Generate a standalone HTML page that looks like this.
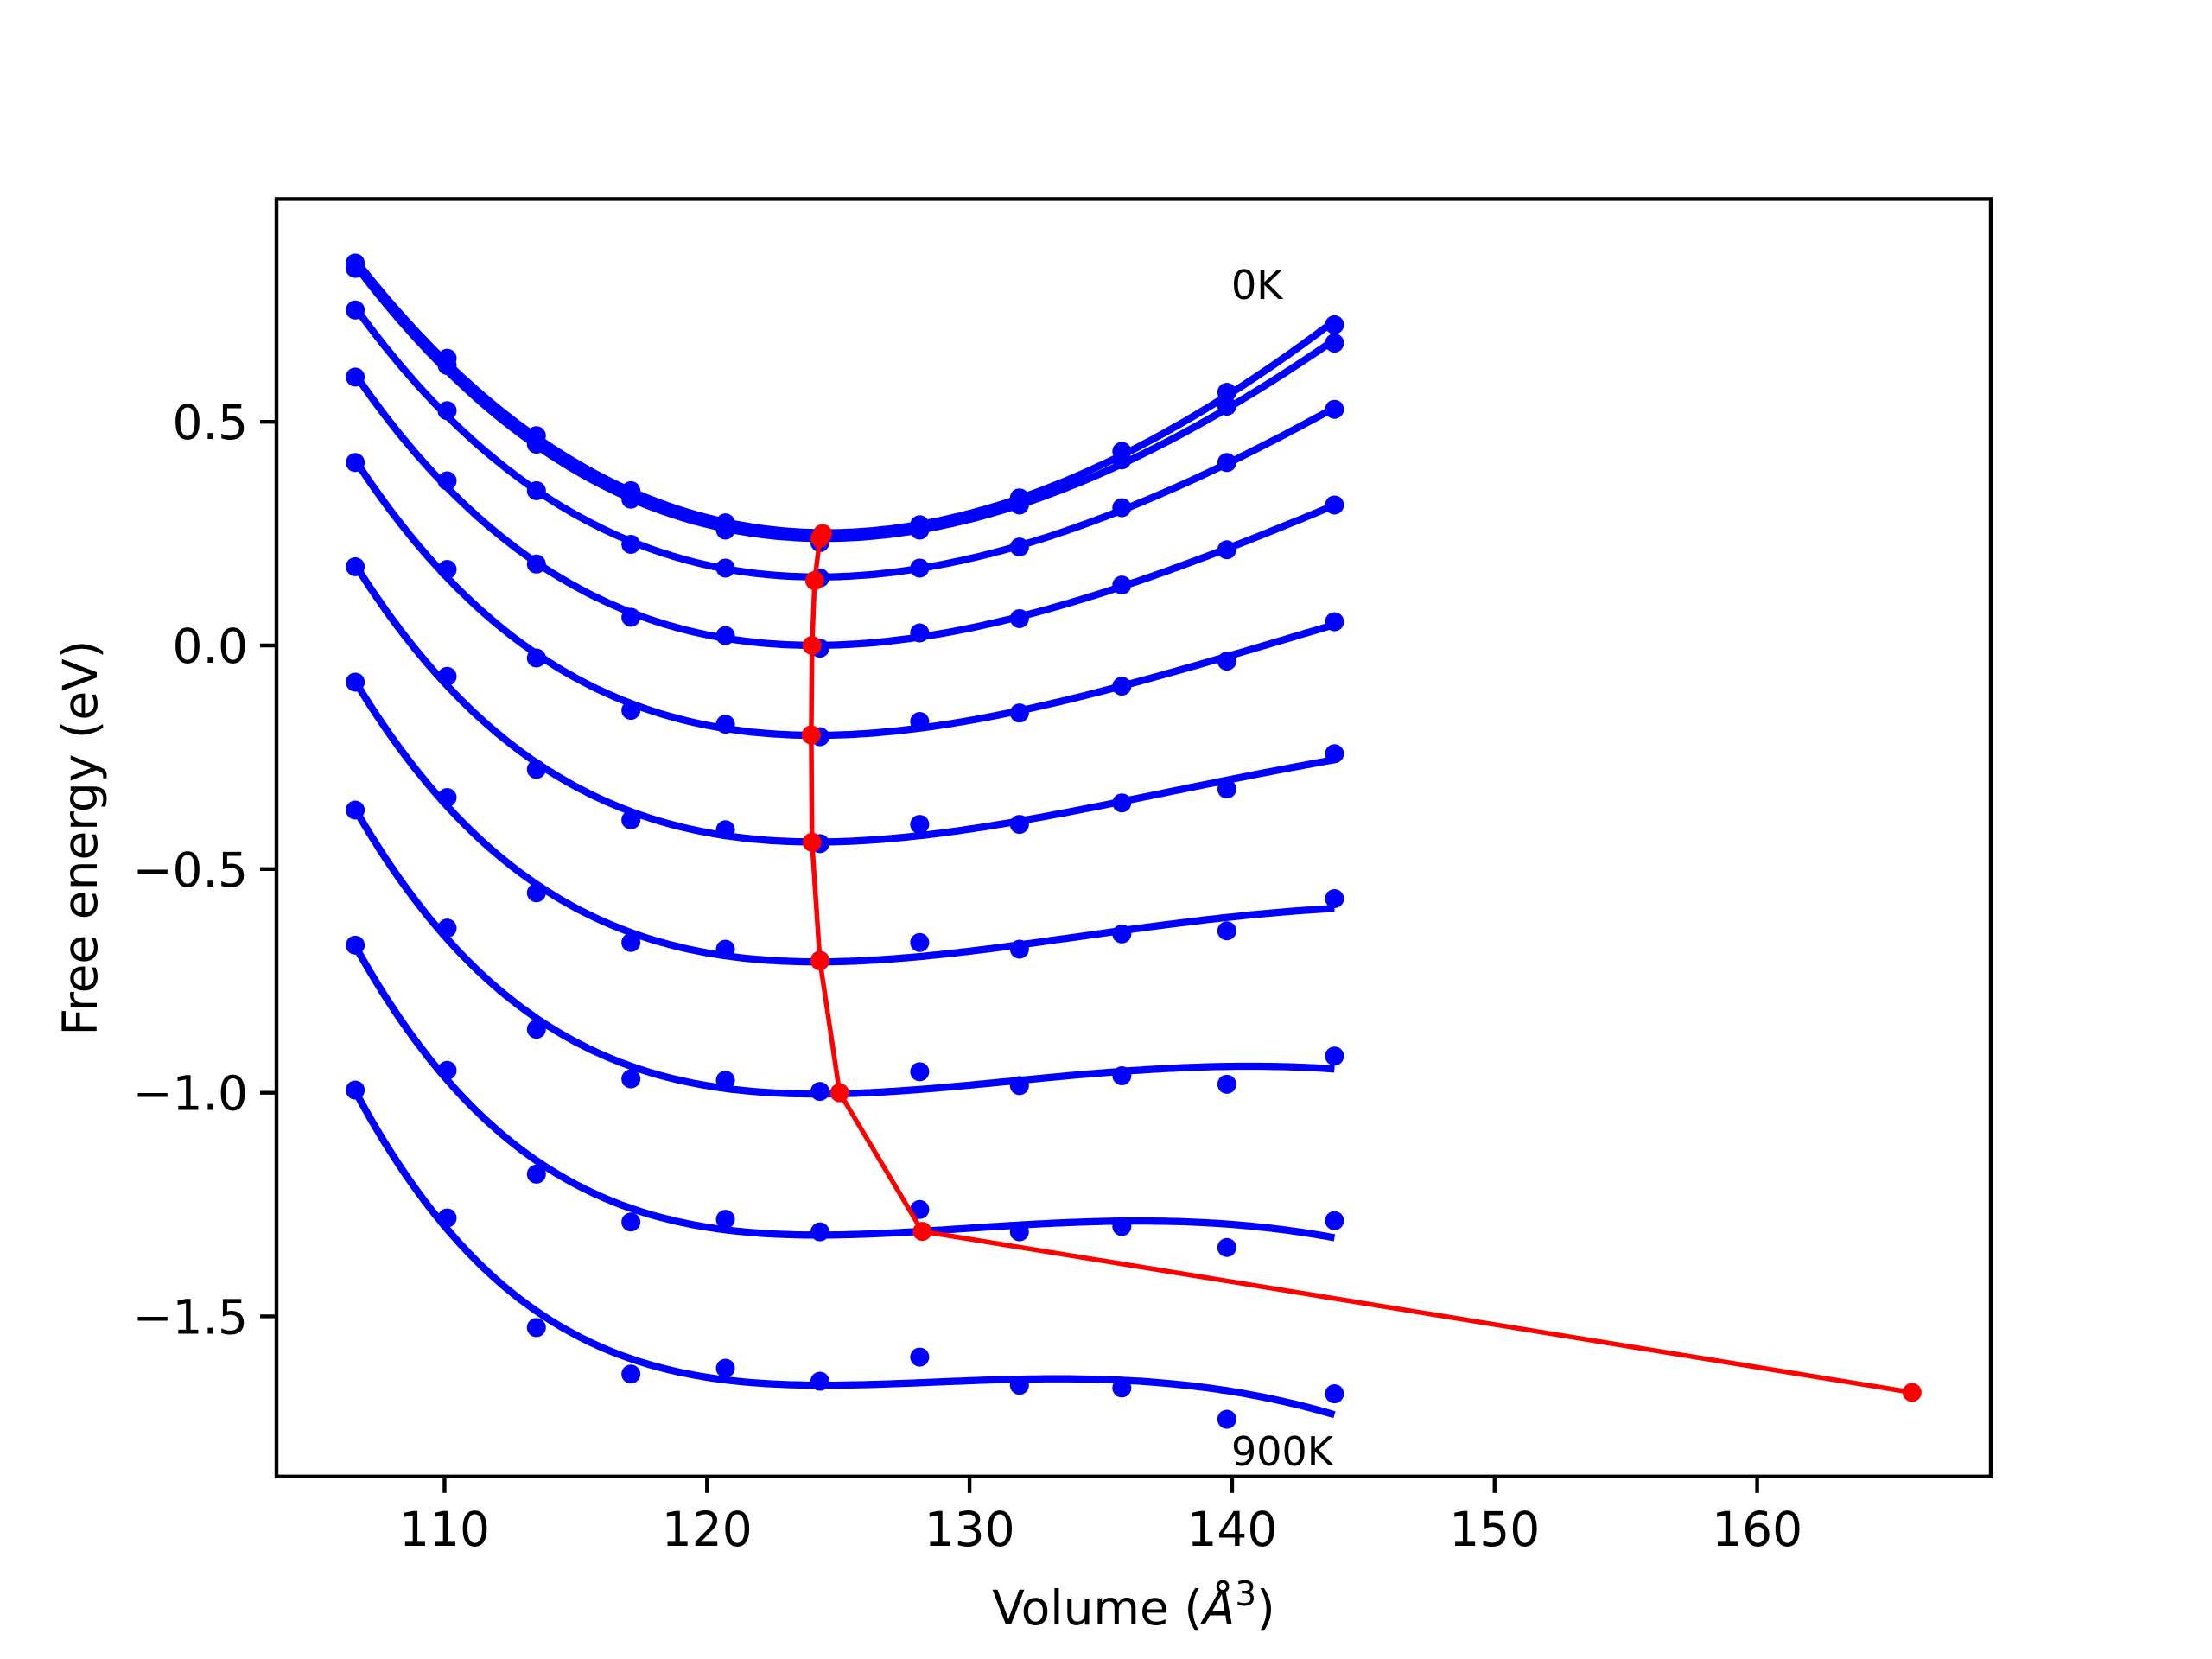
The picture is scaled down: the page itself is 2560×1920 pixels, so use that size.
<!DOCTYPE html>
<html><head><meta charset="utf-8"><style>
html,body{margin:0;padding:0;background:#fff}
svg{display:block;font-family:"DejaVu Sans","Liberation Sans",sans-serif}
</style></head><body>
<svg id="chart" width="2560" height="1920" viewBox="0 0 2560 1920" xmlns="http://www.w3.org/2000/svg">
<rect width="2560" height="1920" fill="#fff"/>
<g id="plot"></g>
<g id="axes"></g>
</svg>
<script>
const volumes=[106.6,110.1,113.5,117.1,120.7,124.3,128.1,131.9,135.8,139.8,143.9];
const energies0K=[0.855,0.642,0.469,0.346,0.274,0.239,0.27,0.33,0.434,0.566,0.717];
const energies100K=[0.843,0.626,0.45,0.327,0.258,0.23,0.258,0.314,0.415,0.535,0.676];
const energies200K=[0.75,0.525,0.346,0.226,0.173,0.151,0.173,0.22,0.308,0.409,0.528];
const energies300K=[0.60,0.368,0.182,0.063,0.022,-0.006,0.028,0.06,0.135,0.214,0.314];
const energies400K=[0.409,0.17,-0.028,-0.145,-0.176,-0.204,-0.17,-0.151,-0.091,-0.035,0.053];
const energies500K=[0.176,-0.069,-0.277,-0.39,-0.412,-0.443,-0.4,-0.4,-0.352,-0.321,-0.242];
const energies600K=[-0.082,-0.34,-0.553,-0.664,-0.679,-0.704,-0.664,-0.679,-0.645,-0.638,-0.566];
const energies700K=[-0.368,-0.632,-0.858,-0.969,-0.972,-0.997,-0.953,-0.984,-0.962,-0.981,-0.918];
const energies800K=[-0.67,-0.95,-1.182,-1.289,-1.283,-1.311,-1.261,-1.311,-1.299,-1.346,-1.286];
const energies900K=[-0.994,-1.28,-1.525,-1.629,-1.616,-1.645,-1.591,-1.654,-1.66,-1.73,-1.673];
const minVolumes=[124.4,124.3,124.1,124.0,123.97,124.0,124.3,125.05,128.2,165.9];
const minEnergies=[0.25,0.24,0.145,0.0,-0.2,-0.44,-0.705,-1.0,-1.31,-1.67];
const xTicks=[110,120,130,140,150,160];
const yTicks=[0.5,0.0,-0.5,-1.0,-1.5];
const yTickLabels=["0.5","0.0","\u22120.5","\u22121.0","\u22121.5"];

const series=[energies0K,energies100K,energies200K,energies300K,energies400K,energies500K,energies600K,energies700K,energies800K,energies900K];
const L=320,R=2304,T=230.4,B=1708.8;
const xMin=103.6,xMax=168.9,yMin=-1.858,yMax=0.998;
const xs=v=>L+(v-xMin)/(xMax-xMin)*(R-L);
const ys=e=>T+(yMax-e)/(yMax-yMin)*(B-T);
const NS="http://www.w3.org/2000/svg";
const plot=document.getElementById('plot'),axes=document.getElementById('axes');
function mk(tag,attrs,parent){const el=document.createElementNS(NS,tag);for(const k in attrs)el.setAttribute(k,attrs[k]);parent.appendChild(el);return el;}

// Birch-Murnaghan style fit: cubic in t=(V/120)^(-2/3)
function fit(E){
  const n=4,A=[...Array(n)].map(()=>Array(n+1).fill(0));
  volumes.forEach((v,i)=>{const t=Math.pow(v/120,-2/3);const p=[1,t,t*t,t*t*t];
    for(let r=0;r<n;r++){for(let c=0;c<n;c++)A[r][c]+=p[r]*p[c];A[r][n]+=p[r]*E[i];}});
  for(let i=0;i<n;i++){let m=i;for(let k=i+1;k<n;k++)if(Math.abs(A[k][i])>Math.abs(A[m][i]))m=k;[A[i],A[m]]=[A[m],A[i]];
    for(let k=0;k<n;k++)if(k!==i){const f=A[k][i]/A[i][i];for(let c=i;c<=n;c++)A[k][c]-=f*A[i][c];}}
  const c=A.map((r,i)=>r[n]/r[i]);
  return v=>{const t=Math.pow(v/120,-2/3);return c[0]+c[1]*t+c[2]*t*t+c[3]*t*t*t;};
}
const clip=mk('clipPath',{id:'ax'},plot);mk('rect',{x:L,y:T,width:R-L,height:B-T},clip);
const g=mk('g',{'clip-path':'url(#ax)'},plot);
series.forEach((E,si)=>{
  const f=fit(E);let d='';
  const v0=volumes[0],v1=volumes[volumes.length-1];
  for(let k=0;k<=200;k++){const v=v0+(v1-v0)*k/200;d+=(k?'L':'M')+xs(v).toFixed(1)+','+ys(f(v)).toFixed(1);}
  const p=mk('path',{d:d,fill:'none',stroke:'#0000ff','stroke-width':8.3},g);
  
  
  E.forEach((e,i)=>{
    const c=mk('circle',{cx:xs(volumes[i]),cy:ys(e),r:11,fill:'#0000ff'},g);
    
    
  });
});
let rd='';minVolumes.forEach((v,i)=>{rd+=(i?'L':'M')+xs(v)+','+ys(minEnergies[i]);});
const rl=mk('path',{d:rd,fill:'none',stroke:'#ff0000','stroke-width':5.5},g);


minVolumes.forEach((v,i)=>{
  const c=mk('circle',{cx:xs(v),cy:ys(minEnergies[i]),r:11,fill:'#ff0000'},g);
  
  
});
const t0=mk('text',{x:1425,y:346,'font-size':46,fill:'#000'},plot);t0.textContent='0K';

const t9=mk('text',{x:1425,y:1696,'font-size':46,fill:'#000'},plot);t9.textContent='900K';


const frame=mk('rect',{x:L,y:T,width:R-L,height:B-T,fill:'none',stroke:'#000','stroke-width':4.4},axes);

xTicks.forEach(v=>{
  const x=xs(v);
  const tk=mk('line',{x1:x,x2:x,y1:B,y2:B+19,stroke:'#000','stroke-width':4.4},axes);
  
  const t=mk('text',{x:x,y:B+80,'font-size':55,'text-anchor':'middle',fill:'#000'},axes);t.textContent=String(v);
  
});
yTicks.forEach((v,i)=>{
  const y=ys(v);
  const tk=mk('line',{x1:L-19,x2:L,y1:y,y2:y,stroke:'#000','stroke-width':4.4},axes);
  
  const t=mk('text',{x:L-33,y:y+20,'font-size':55,'text-anchor':'end',fill:'#000'},axes);t.textContent=yTickLabels[i];
  
});
const xl=mk('text',{x:(L+R)/2,y:1880,'font-size':55,'text-anchor':'middle',fill:'#000'},axes);
xl.innerHTML='Volume (<tspan font-style="italic">Å</tspan><tspan dy="-22" font-size="39">3</tspan><tspan dy="22">)</tspan>';

const yl=mk('text',{x:0,y:0,'font-size':55,'text-anchor':'middle',fill:'#000',transform:'translate(112,'+((T+B)/2)+') rotate(-90)'},axes);
yl.textContent='Free energy (eV)';

</script>
</body></html>
